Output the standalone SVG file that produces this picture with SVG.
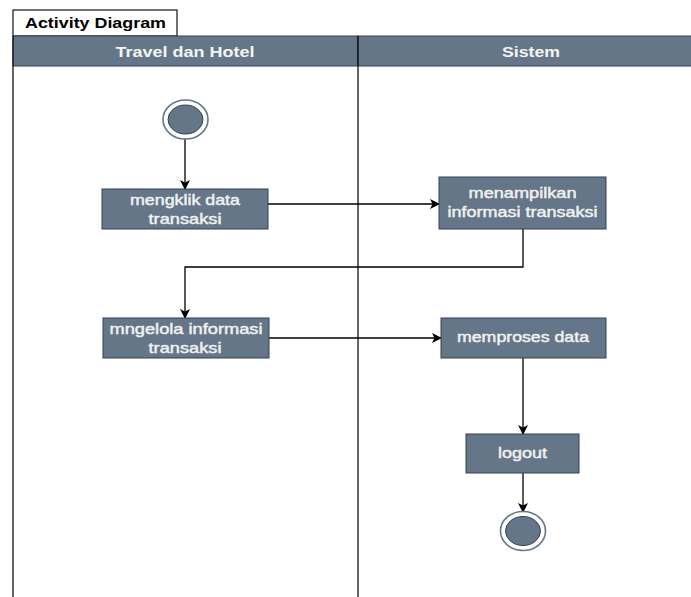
<svg xmlns="http://www.w3.org/2000/svg" width="691" height="597" viewBox="0 0 691 597">
  <style>
    .lane { fill: none; stroke: #111; stroke-width: 1.3; }
    .hdr { fill: #647687; stroke: #314354; stroke-width: 1; }
    .hdrtxt { font-family: "Liberation Sans", Arial, sans-serif; font-size: 15px; font-weight: bold; fill: #f4f4f4; text-anchor: middle; }
    .act { fill: #647687; stroke: #314354; stroke-width: 1; }
    .acttxt { font-family: "Liberation Sans", Arial, sans-serif; font-size: 15px; fill: #f2f2f2; stroke: #f2f2f2; stroke-width: 0.45; text-anchor: middle; }
    .edge { fill: none; stroke: #000; stroke-width: 1.3; }
    .ring { fill: #fff; stroke: #647687; stroke-width: 1.6; }
    .dot { fill: #647687; stroke: #314354; stroke-width: 1; }
  </style>
  <defs>
    <marker id="arrow" viewBox="0 0 10 10" refX="9" refY="5" markerWidth="10" markerHeight="10" markerUnits="userSpaceOnUse" orient="auto">
      <path d="M0,0 L10,5 L0,10 L2.5,5 Z" fill="#000"/>
    </marker>
  </defs>

  <rect width="691" height="597" fill="#fff"/>

  <!-- frame tab -->
  <g id="frame-tab">
    <rect x="13" y="10" width="164" height="26" fill="#fff" stroke="#111" stroke-width="1.2"/>
    <text x="25" y="28" font-family="Liberation Sans, Arial, sans-serif" font-size="14.5" font-weight="bold" fill="#000" textLength="141" lengthAdjust="spacingAndGlyphs">Activity Diagram</text>
  </g>

  <!-- swimlanes -->
  <g id="lane-travel">
    <rect class="hdr" x="13" y="36" width="345" height="30"/>
    <text class="hdrtxt" x="185" y="57" textLength="139" lengthAdjust="spacingAndGlyphs">Travel dan Hotel</text>
    <line class="lane" x1="13" y1="36" x2="13" y2="597"/>
    <line class="lane" x1="358" y1="36" x2="358" y2="597"/>
  </g>
  <g id="lane-sistem">
    <rect class="hdr" x="358" y="36" width="340" height="30"/>
    <text class="hdrtxt" x="531" y="57" textLength="58" lengthAdjust="spacingAndGlyphs">Sistem</text>
    <line class="lane" x1="358" y1="36" x2="358" y2="66"/>
  </g>

  <!-- connectors -->
  <g id="edges">
    <path class="edge" d="M185,139 L185,189" marker-end="url(#arrow)"/>
    <path class="edge" d="M268,204 L439,204" marker-end="url(#arrow)"/>
    <path class="edge" d="M523,229 L523,267 L185,267 L185,318" marker-end="url(#arrow)"/>
    <path class="edge" d="M269,338 L441,338" marker-end="url(#arrow)"/>
    <path class="edge" d="M523,358 L523,434" marker-end="url(#arrow)"/>
    <path class="edge" d="M523,473 L523,512" marker-end="url(#arrow)"/>
  </g>

  <!-- nodes -->
  <g id="start">
    <ellipse class="ring" cx="185.5" cy="119.5" rx="22.5" ry="19.5"/>
    <ellipse class="dot" cx="185.5" cy="119.5" rx="17.5" ry="14.5"/>
  </g>

  <g id="mengklik">
    <rect class="act" x="102" y="189" width="166" height="40"/>
    <text class="acttxt" x="185" y="205" textLength="110" lengthAdjust="spacingAndGlyphs">mengklik data</text>
    <text class="acttxt" x="185" y="224" textLength="73" lengthAdjust="spacingAndGlyphs">transaksi</text>
  </g>

  <g id="menampilkan">
    <rect class="act" x="439" y="177" width="167" height="52"/>
    <text class="acttxt" x="522.5" y="198" textLength="108" lengthAdjust="spacingAndGlyphs">menampilkan</text>
    <text class="acttxt" x="522.5" y="217" textLength="150" lengthAdjust="spacingAndGlyphs">informasi transaksi</text>
  </g>

  <g id="mengelola">
    <rect class="act" x="103" y="318" width="166" height="40"/>
    <text class="acttxt" x="186" y="334" textLength="153" lengthAdjust="spacingAndGlyphs">mngelola informasi</text>
    <text class="acttxt" x="185" y="353" textLength="73" lengthAdjust="spacingAndGlyphs">transaksi</text>
  </g>

  <g id="memproses">
    <rect class="act" x="441" y="318" width="165" height="40"/>
    <text class="acttxt" x="523" y="342" textLength="132" lengthAdjust="spacingAndGlyphs">memproses data</text>
  </g>

  <g id="logout">
    <rect class="act" x="466" y="434" width="113" height="39"/>
    <text class="acttxt" x="522.5" y="458" textLength="49" lengthAdjust="spacingAndGlyphs">logout</text>
  </g>

  <g id="end">
    <ellipse class="ring" cx="523" cy="531" rx="22.5" ry="19.5"/>
    <ellipse class="dot" cx="523" cy="531" rx="17.5" ry="14.5"/>
  </g>
</svg>
